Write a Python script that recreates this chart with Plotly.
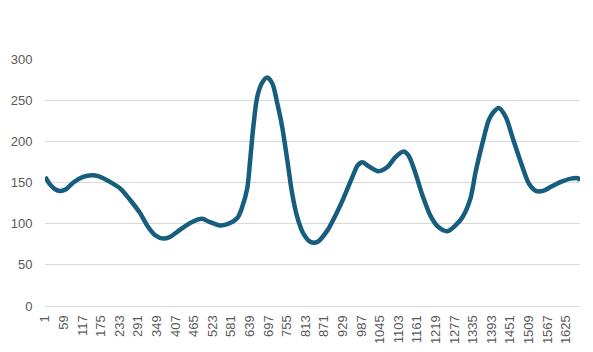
import plotly.graph_objects as go

# category index (1..N) and value
idx = [1, 16, 32, 47, 66, 88, 119, 147, 166, 203, 235, 266, 297, 319, 344, 369, 390,
       422, 453, 490, 515, 546, 571, 600, 615, 631, 640, 650, 662, 678, 693, 709, 725,
       740, 756, 771, 787, 806, 828, 850, 881, 912, 931, 959, 975, 990, 1006, 1040,
       1068, 1093, 1118, 1134, 1156, 1177, 1202, 1227, 1255, 1280, 1302, 1327, 1343,
       1365, 1384, 1399, 1415, 1437, 1459, 1484, 1509, 1531, 1553, 1578, 1609, 1640,
       1665, 1668]
vals = [157, 148, 142, 140, 142, 150, 157, 159, 158, 151, 143, 129, 113, 98, 86, 82, 84,
        93, 101, 106, 102, 98, 100, 107, 120, 143, 177, 218, 254, 272, 278, 271, 246,
        218, 177, 137, 108, 88, 78, 78, 92, 115, 131, 157, 171, 175, 171, 164,
        169, 181, 188, 183, 161, 135, 110, 96, 91, 98, 108, 131, 163,
        199, 226, 236, 241, 230, 204, 175, 149, 140, 140, 145, 151, 155,
        155, 152]
N = 1668
tick_labels = [str(v) for v in range(1, 1626, 58)]

fig = go.Figure()
fig.add_trace(go.Scatter(
    x=idx, y=vals, mode="lines",
    line=dict(color="#175e7e", width=4.5, shape="spline", smoothing=0.8),
    hoverinfo="skip", showlegend=False,
))

font = dict(family="Liberation Sans, Arial, sans-serif", size=13, color="#595959")
fig.update_layout(
    width=593, height=352,
    margin=dict(l=45, r=13, t=59, b=46, autoexpand=False),
    paper_bgcolor="white", plot_bgcolor="white",
    font=font,
    xaxis=dict(
        range=[0.5, N + 0.5],
        tickmode="array",
        tickvals=[int(t) for t in tick_labels],
        ticktext=tick_labels,
        tickangle=-90,
        automargin=False,
        showgrid=False, zeroline=False,
        showline=True, linecolor="#d9d9d9", linewidth=1,
        ticks="outside", ticklen=3, tickcolor="rgba(0,0,0,0)",
        tickfont=font,
    ),
    yaxis=dict(
        range=[0, 300.5],
        tickmode="array",
        tickvals=[0, 50, 100, 150, 200, 250, 300],
        automargin=False,
        showgrid=True, gridcolor="#d9d9d9", gridwidth=1,
        zeroline=False,
        ticks="outside", ticklen=9, tickcolor="rgba(0,0,0,0)",
        tickfont=font,
    ),
)

fig.write_html("out.html")
